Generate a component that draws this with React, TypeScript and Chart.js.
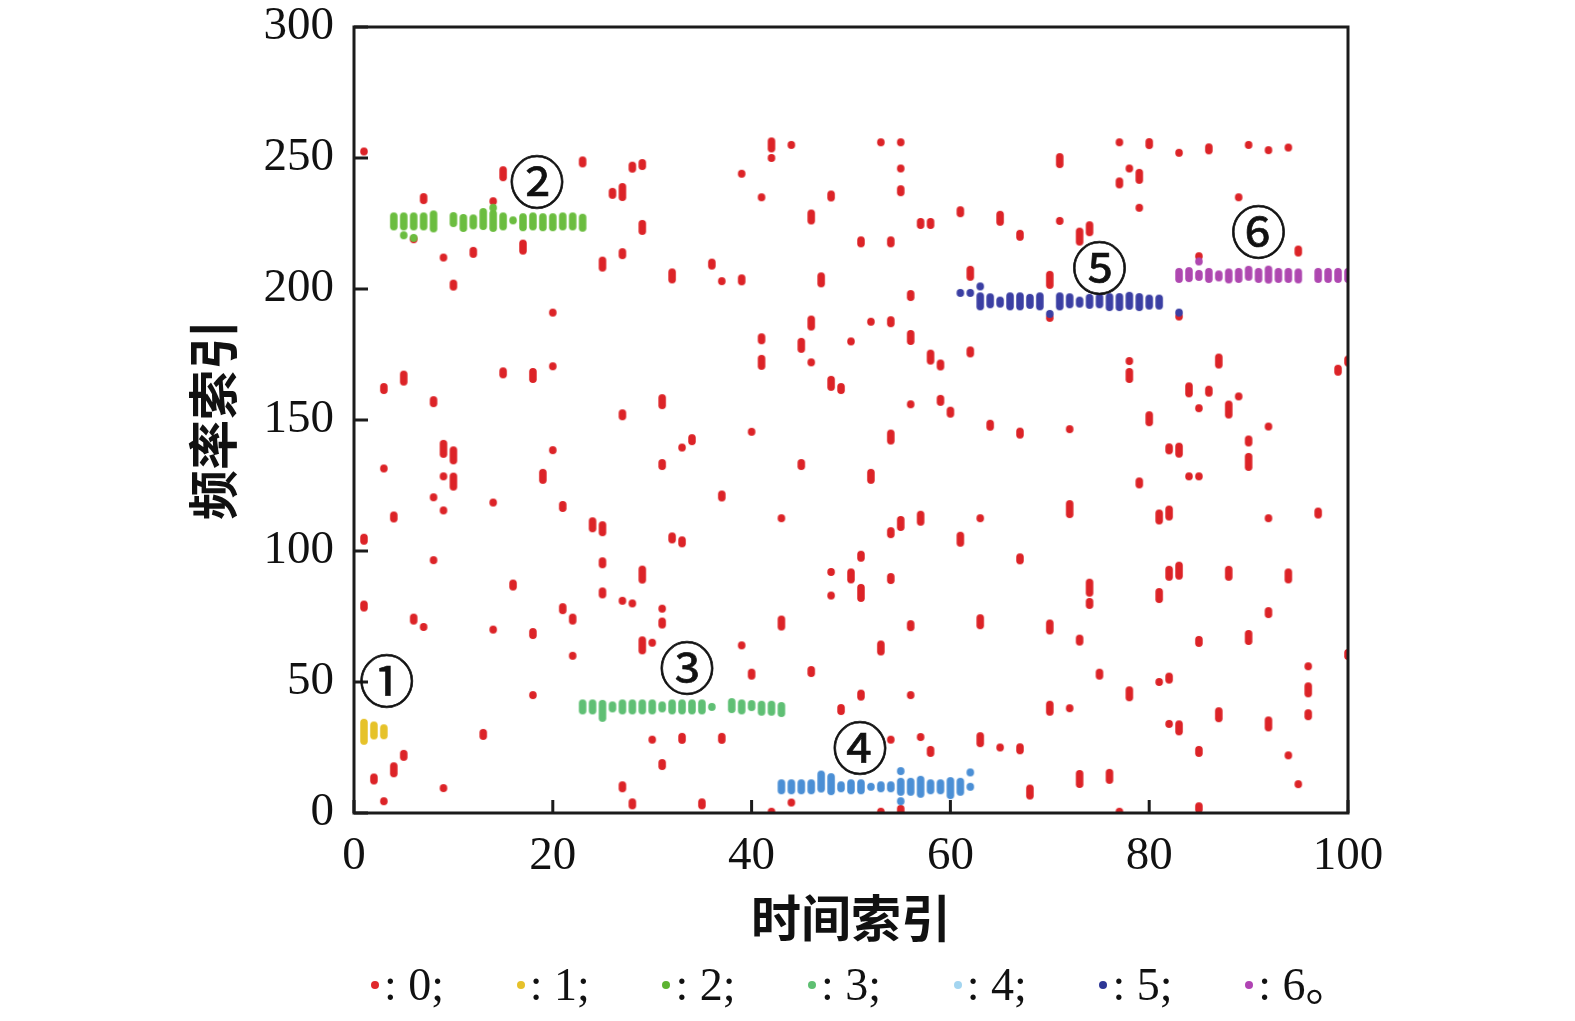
import { useEffect, useRef } from 'react';
import { Chart, registerables } from 'chart.js';

Chart.register(...registerables);

// ---- axes ----
const xTicks = [0, 20, 40, 60, 80, 100];
const yTicks = [0, 50, 100, 150, 200, 250, 300];
const xTitle = '时间索引';
const yTitle = '频率索引';

// ---- classes / legend ----
const classLabels = [': 0;', ': 1;', ': 2;', ': 3;', ': 4;', ': 5;', ': 6。'];
const legendColors = ['#e0282b', '#e6c12a', '#5cb331', '#5ebf72', '#a3d5f0', '#2d3695', '#b043b3'];
const markColors = ['#dc2327', '#e6c229', '#6bbd3f', '#5fbf74', '#4b8fd5', '#3b3fa3', '#ae47b0'];

// ---- circled cluster labels ----
const circleTexts = ['①', '②', '③', '④', '⑤', '⑥'];
const circleX = [3.3, 18.4, 33.5, 50.9, 75.0, 91.0];
const circleY = [50.6, 241, 55.3, 24.8, 208, 222];

// ---- data: [time index, frequency index, run length] ----
const class0: [number, number, number][] = [
  [1, 252.5, 1], [23, 248.5, 2], [15, 244, 3], [7, 234.5, 2], [14, 233.5, 1], [6, 219, 1],
  [9, 212, 1], [12, 214, 2], [17, 216, 3], [10, 201.5, 2], [20, 191, 1], [20, 170.5, 1],
  [15, 168, 2], [18, 167, 3], [5, 166, 3], [3, 162, 2], [8, 157, 2], [9, 139, 4],
  [10, 136.5, 4], [3, 131.5, 1], [9, 128.5, 1], [10, 126.5, 4], [8, 120.5, 1], [9, 115.5, 1],
  [4, 113, 2], [1, 104.5, 2], [8, 96.5, 1], [1, 79, 2], [6, 74, 2], [7, 71, 1],
  [14, 118.5, 1], [19, 128.5, 3], [20, 138.5, 1], [21, 117, 2], [24, 110, 3], [16, 87, 2],
  [14, 70, 1], [18, 68.5, 2], [21, 78, 2], [22, 74, 2], [22, 60, 1], [18, 45, 1],
  [13, 30, 2], [5, 22, 2], [4, 16.5, 3], [2, 13, 2], [3, 4.5, 1], [9, 9.5, 1],
  [29, 64, 4], [30, 65, 1], [39, 64, 1], [40, 53, 2], [46, 54, 2], [49, 39.5, 2],
  [30, 28, 1], [33, 28.5, 2], [37, 28.5, 2], [31, 18.5, 2], [27, 10, 2], [28, 3.5, 2],
  [35, 3.5, 2], [44, 4, 1], [42, 0.5, 1],
  [53, 63, 3], [73, 66, 2], [75, 53, 2], [51, 45, 2], [56, 45, 1], [70, 40, 3],
  [72, 40, 1], [54, 28, 1], [57, 29, 1], [58, 23.5, 2], [63, 28, 3], [65, 25, 1],
  [67, 24.5, 2], [68, 8, 3], [73, 13, 4], [53, 0.5, 1], [55, 1, 2],
  [27, 152, 2], [31, 157, 3], [40, 145.5, 1], [34, 142.5, 2], [33, 139.5, 1], [31, 133, 2],
  [45, 133, 2], [37, 121, 2], [43, 112.5, 1], [25, 108.5, 3], [32, 105, 2], [33, 103.5, 2],
  [25, 95.5, 2], [29, 91, 4], [48, 92, 1], [50, 90.5, 3], [25, 84, 2], [27, 81, 1],
  [28, 80, 1], [31, 78, 1], [31, 72.5, 2], [48, 83, 1], [43, 72.5, 3],
  [42, 255, 3], [44, 255, 1], [42, 250, 1], [28, 246.5, 2], [29, 247.5, 2], [39, 244, 1],
  [26, 236.5, 2], [27, 237, 4], [41, 235, 1], [48, 235.5, 2], [46, 227.5, 3], [29, 223.5, 3],
  [27, 213.5, 2], [25, 209.5, 3], [36, 209.5, 2], [32, 205, 3], [37, 203, 1], [39, 203.5, 2],
  [47, 203.5, 3], [46, 187, 3], [41, 181, 2], [45, 178.5, 3], [50, 180, 1], [41, 172, 3],
  [46, 172, 1], [48, 164, 3], [49, 162, 2],
  [53, 256, 1], [55, 256, 1], [55, 246, 1], [55, 237.5, 2], [71, 249, 3], [61, 229.5, 2],
  [57, 225, 2], [58, 225, 2], [65, 227, 3], [71, 226, 1], [51, 218, 2], [54, 218, 2],
  [67, 220.5, 2], [73, 220, 4], [74, 223, 3], [62, 206, 3], [70, 203.5, 4], [56, 197.5, 2],
  [52, 187.5, 1], [54, 187.5, 2], [56, 181.5, 3], [62, 176, 2], [58, 174, 3], [59, 171, 2],
  [70, 189, 1], [56, 156, 1], [59, 157.5, 2],
  [77, 256, 1], [80, 255.5, 2], [83, 252, 1], [86, 253.5, 2], [90, 255, 1], [92, 253, 1],
  [94, 254, 1], [78, 246, 1], [77, 240.5, 2], [79, 243, 3], [79, 231, 1], [89, 235, 1],
  [85, 212.5, 1], [95, 214.5, 2], [78, 172.5, 1], [78, 167, 3], [87, 172.5, 3], [84, 161.5, 3],
  [86, 161, 2], [89, 159, 1], [99, 169, 2], [100, 172.5, 2], [83, 189.5, 1],
  [60, 153, 2], [64, 148, 2], [67, 145, 2], [72, 146.5, 1], [54, 143.5, 3], [52, 128.5, 3],
  [72, 116, 4], [54, 107, 2], [55, 110.5, 3], [57, 112.5, 3], [63, 112.5, 1], [61, 104.5, 3],
  [51, 98, 2], [67, 97, 2], [54, 89.5, 2], [51, 84, 4], [74, 86, 4], [74, 80, 2],
  [56, 71.5, 2], [63, 73, 3], [70, 71, 3],
  [85, 154.5, 1], [88, 154, 4], [80, 150.5, 3], [92, 147.5, 1], [90, 142, 2], [82, 139, 2],
  [83, 138.5, 3], [90, 134, 4], [84, 128.5, 1], [85, 128.5, 1], [79, 126, 2], [97, 114.5, 2],
  [81, 113, 3], [82, 114.5, 3], [92, 112.5, 1], [82, 91.5, 3], [83, 92.5, 4], [88, 91.5, 3],
  [94, 90.5, 3], [81, 83, 3], [92, 76.5, 2], [85, 65.5, 2], [90, 67, 3], [96, 56, 1],
  [100, 60.5, 2],
  [81, 50, 1], [82, 51.5, 2], [78, 45.5, 3], [96, 47, 3], [87, 37.5, 3], [92, 34, 3],
  [96, 37.5, 2], [82, 34, 1], [83, 32.5, 3], [85, 23.5, 2], [94, 22, 1], [76, 14, 3],
  [95, 11, 1], [77, 0.5, 1], [85, 2, 2],
];

const class1: [number, number, number][] = [[1, 31, 6], [2, 31.5, 4], [3, 31, 3]];

const class2: [number, number, number][] = [
  [4, 225.8, 4], [5, 225.8, 4], [6, 225.8, 4], [7, 225.8, 4], [8, 225.8, 5],
  [10, 226.5, 3], [11, 225.2, 4], [12, 225.6, 3], [13, 226.7, 5], [14, 226, 5], [15, 225.8, 4],
  [16, 226.2, 1], [17, 225.5, 4], [18, 225.8, 4], [19, 225.5, 4], [20, 225.5, 4], [21, 225.8, 4],
  [22, 225.8, 4], [23, 225.3, 4], [5, 220.5, 1], [6, 219.5, 1], [14, 231, 1],
];

const class3: [number, number, number][] = [
  [23, 40.5, 3], [24, 40.5, 3], [25, 39, 5], [26, 40.5, 2], [27, 40.5, 3], [28, 40.5, 3],
  [29, 40.5, 3], [30, 40.5, 3], [31, 40.5, 2], [32, 40.5, 3], [33, 40.5, 3], [34, 40.5, 3],
  [35, 40.5, 3], [36, 40.5, 1], [38, 41, 3], [39, 40.5, 3], [40, 41, 2], [41, 40, 3],
  [42, 40, 3], [43, 39.5, 3],
];

const class4: [number, number, number][] = [
  [43, 10, 3], [44, 10, 3], [45, 10, 3], [46, 10, 3], [47, 12, 5], [48, 11, 5], [49, 10, 2],
  [50, 10, 3], [51, 10, 3], [52, 10, 1], [53, 10, 2], [54, 10, 2], [55, 10, 4], [55, 16, 1],
  [55, 4.5, 1], [56, 10, 4], [57, 10, 5], [58, 10, 3], [59, 10, 3], [60, 9.5, 5], [61, 10, 4],
  [62, 15.5, 1], [62, 10, 1],
];

const class5: [number, number, number][] = [
  [61, 198.5, 1], [62, 198.5, 1], [63, 201, 1], [63, 195.3, 4], [64, 195.5, 3], [65, 195, 2],
  [66, 195.3, 4], [67, 195.3, 4], [68, 195.3, 3], [69, 195.3, 4], [70, 190.5, 1], [71, 195.3, 4],
  [72, 195.5, 3], [73, 195, 2], [74, 195.3, 3], [75, 195.5, 3], [76, 195, 4], [77, 195, 4],
  [78, 195.5, 4], [79, 195, 4], [80, 195, 3], [81, 195, 3], [83, 191, 1],
];

const class6: [number, number, number][] = [
  [83, 205.2, 3], [84, 205.5, 3], [85, 205.2, 2], [86, 205.2, 3], [87, 205, 2], [88, 205, 3],
  [89, 205.2, 3], [90, 206, 3], [91, 205.2, 3], [92, 205.5, 4], [93, 205.2, 3], [94, 205.2, 3],
  [95, 205, 3], [97, 205.2, 3], [98, 205.2, 3], [99, 205.2, 3], [100, 205.2, 3], [85, 210.5, 1],
];

const serif = "'Liberation Serif', 'Noto Sans CJK SC', serif";
const cjk = "'Noto Sans CJK SC', sans-serif";

function makeSprite(color: string, n: number) {
  const w = 7.5;
  const h = Math.round(7.5 + 3.6 * (n - 1));
  const c = document.createElement('canvas');
  c.width = 10;
  c.height = h + 2;
  const g = c.getContext('2d')!;
  g.fillStyle = color;
  g.beginPath();
  (g as any).roundRect(1.25, 1, w, h, w / 2);
  g.fill();
  return c;
}

const framePlugin = {
  id: 'frameAndLabels',
  afterDatasetsDraw(chart: any) {
    const { ctx, chartArea: a, scales } = chart;
    ctx.save();
    ctx.strokeStyle = '#1b1b1b';
    ctx.lineWidth = 3;
    ctx.strokeRect(a.left, a.top, a.right - a.left, a.bottom - a.top);
    ctx.beginPath();
    xTicks.forEach((v) => {
      const px = scales.x.getPixelForValue(v);
      ctx.moveTo(px, a.bottom);
      ctx.lineTo(px, a.bottom - 13);
    });
    yTicks.forEach((v) => {
      const py = scales.y.getPixelForValue(v);
      ctx.moveTo(a.left, py);
      ctx.lineTo(a.left + 14, py);
    });
    ctx.stroke();
    ctx.fillStyle = '#111';
    ctx.strokeStyle = '#111';
    ctx.lineWidth = 0.7;
    ctx.font = `56px 'Noto Sans CJK SC', 'DejaVu Sans'`;
    ctx.textAlign = 'center';
    ctx.textBaseline = 'middle';
    circleTexts.forEach((t, i) => {
      const px = scales.x.getPixelForValue(circleX[i]);
      const py = scales.y.getPixelForValue(circleY[i]);
      ctx.fillText(t, px, py);
      ctx.strokeText(t, px, py);
    });
    ctx.restore();
  },
};

export default function App() {
  const ref = useRef<HTMLCanvasElement | null>(null);

  useEffect(() => {
    if (!ref.current) return;
    const classes = [class0, class1, class2, class3, class4, class5, class6];
    const sprites = markColors.map((col) => {
      const s: Record<number, HTMLCanvasElement> = {};
      for (let n = 1; n <= 8; n++) s[n] = makeSprite(col, n);
      return s;
    });
    const datasets = classes.map((pts, i) => ({
      label: classLabels[i],
      data: pts.map(([x, y, n]) => ({ x, y, n })),
      order: i === 0 ? 1 : 0,
      clip: 0,
      pointRadius: 4,
      pointStyle: (c: any) => sprites[i][(c.raw && c.raw.n) || 1],
      backgroundColor: markColors[i],
      borderColor: markColors[i],
    }));

    const chart = new Chart(ref.current, {
      type: 'scatter',
      data: { datasets },
      plugins: [framePlugin],
      options: {
        animation: false,
        responsive: false,
        events: [],
        layout: { padding: { left: 0, top: 27, right: 227, bottom: 0 } },
        plugins: { legend: { display: false }, tooltip: { enabled: false } },
        scales: {
          x: {
            type: 'linear',
            min: 0,
            max: 100,
            afterBuildTicks: (s: any) => {
              s.ticks = xTicks.map((v) => ({ value: v }));
            },
            afterFit: (s: any) => {
              s.height = 208;
            },
            grid: { display: false, drawTicks: true, tickLength: 17 },
            border: { display: false },
            ticks: {
              padding: 3,
              color: '#111',
              font: { family: serif, size: 47, lineHeight: 1 },
            },
            title: {
              display: true,
              text: xTitle,
              color: '#111',
              font: { family: cjk, size: 50, weight: 'bold', lineHeight: 1.2 },
              padding: { top: 0, bottom: 73 },
            },
          },
          y: {
            type: 'linear',
            min: 0,
            max: 300,
            afterBuildTicks: (s: any) => {
              s.ticks = yTicks.map((v) => ({ value: v }));
            },
            afterFit: (s: any) => {
              s.width = 354;
            },
            grid: { display: false, drawTicks: true, tickLength: 17 },
            border: { display: false },
            ticks: {
              padding: 3,
              color: '#111',
              font: { family: serif, size: 47, lineHeight: 1 },
            },
            title: {
              display: true,
              text: yTitle,
              color: '#111',
              font: { family: cjk, size: 50, weight: 'bold', lineHeight: 1.2 },
              padding: { top: 183, bottom: 0 },
            },
          },
        },
      } as any,
    });
    return () => chart.destroy();
  }, []);

  return (
    <div style={{ position: 'absolute', left: 0, top: 0, width: 1575, height: 1021, background: '#fff' }}>
      <canvas ref={ref} width={1575} height={1021} style={{ display: 'block', width: 1575, height: 1021 }} />
      <div
        style={{
          position: 'absolute',
          left: 371,
          top: 957,
          display: 'flex',
          fontFamily: serif,
          fontSize: 46,
          lineHeight: '56px',
          color: '#111',
          whiteSpace: 'nowrap',
        }}
      >
        {classLabels.map((t, i) => (
          <div key={i} style={{ width: 145.7, display: 'flex', alignItems: 'center' }}>
            <span
              style={{
                width: 8,
                height: 8,
                borderRadius: '50%',
                background: legendColors[i],
                marginRight: 5,
                flex: 'none',
              }}
            />
            <span>{t}</span>
          </div>
        ))}
      </div>
    </div>
  );
}
